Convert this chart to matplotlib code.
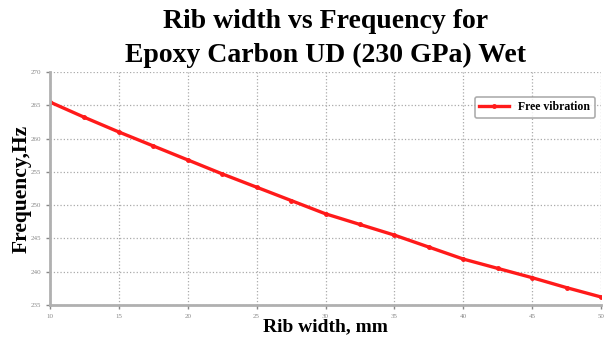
import matplotlib.pyplot as plt

rib_width = [10, 12.5, 15, 17.5, 20, 22.5, 25, 27.5, 30, 32.5, 35, 37.5, 40, 42.5, 45, 47.5, 50]
frequency = [265.5, 263.2, 261.0, 258.9, 256.8, 254.7, 252.7, 250.7, 248.7, 247.1, 245.5,
             243.7, 241.9, 240.5, 239.1, 237.6, 236.2]
x_ticks = [10, 15, 20, 25, 30, 35, 40, 45, 50]
y_ticks = [235, 240, 245, 250, 255, 260, 265, 270]

plt.rcParams['font.family'] = 'Liberation Serif'

fig = plt.figure(figsize=(6.09, 3.4), dpi=100)
ax = fig.add_axes([0.082, 0.103, 0.905, 0.685])

ax.plot(rib_width, frequency, color='#ff1a1a', linewidth=2.4, marker='o', markersize=2.5,
        label='Free vibration')

ax.set_xlim(10, 50)
ax.set_ylim(235, 270)
ax.set_xticks(x_ticks)
ax.set_yticks(y_ticks)
ax.tick_params(labelsize=5, colors='#888888', length=3, width=1)
ax.grid(True, color='#aaaaaa', linestyle=':', linewidth=0.9)

for s in ['top', 'right']:
    ax.spines[s].set_visible(False)
for s in ['left', 'bottom']:
    ax.spines[s].set_color('#b0b0b0')
    ax.spines[s].set_linewidth(2)

ax.set_xlabel('Rib width, mm', fontsize=14, fontweight='bold')
ax.xaxis.set_label_coords(0.5, -0.055, transform=ax.transAxes)
ax.xaxis.label.set_verticalalignment('top')
ax.set_ylabel('Frequency,Hz', fontsize=15.5, fontweight='bold')
ax.yaxis.set_label_coords(-0.034, 0.5)

fig.text(0.535, 0.918, 'Rib width vs Frequency for', fontsize=20, fontweight='bold',
         ha='center', va='baseline')
fig.text(0.535, 0.818, 'Epoxy Carbon UD (230 GPa) Wet', fontsize=20, fontweight='bold',
         ha='center', va='baseline')

leg = ax.legend(loc='upper right', bbox_to_anchor=(1.0, 0.92), prop={'size': 8.5, 'weight': 'bold'},
                frameon=True, fancybox=True, edgecolor='#999999', handlelength=2.5,
                borderpad=0.4)
leg.get_frame().set_linewidth(1.2)

fig.savefig('out.png', dpi=100)
